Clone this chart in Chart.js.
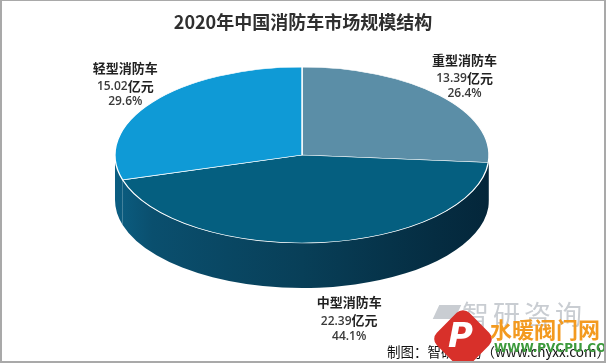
<!DOCTYPE html>
<html lang="zh">
<head>
<meta charset="utf-8">
<title>2020年中国消防车市场规模结构</title>
<script src="https://cdn.jsdelivr.net/npm/chart.js@4.4.1/dist/chart.umd.min.js"></script>
<style>
  html, body { margin: 0; padding: 0; background: #fff; }
  #wrap { position: relative; width: 606px; height: 363px; overflow: hidden; }
  #wrap canvas { position: absolute; left: 0; top: 0; }
  #frame { position: absolute; left: 0; top: 0; right: 0; bottom: 0; border: 2px solid #a9a9a9; border-top-width: 1px; pointer-events: none; }
  .wm { position: absolute; white-space: nowrap; }
  #caption { left: 387px; top: 341px; font: 13.5px "Noto Sans CJK SC", sans-serif; color: #111; }
  #zy { left: 462px; top: 294px; font: 27px "Noto Sans CJK SC", sans-serif; color: #c9cdd2; letter-spacing: 4px; }
  #zyIcon { left: 436px; top: 305px; width: 22px; height: 14px; background: #c9cdd2; transform: skewX(-25deg); }
  #logo { left: 440px; top: 316px; width: 46px; height: 46px; background: #d8302a; border-radius: 9px; transform: rotate(45deg); }
  #logoP { left: 448px; top: 315px; font: italic bold 34px "DejaVu Sans", sans-serif; color: #fff; }
  #swn { left: 490px; top: 312px; font: bold 22px "Noto Sans CJK SC", sans-serif; color: #f39a1f; }
  #pvc { left: 494px; top: 341px; font: bold 12px "DejaVu Sans", sans-serif; color: #3c9a3c; }
</style>
</head>
<body>
<div id="wrap">
  <canvas id="pieChart" width="606" height="363"></canvas>
  <div class="wm" id="caption">制图：智研咨询（www.chyxx.com）</div>
  <div class="wm" id="zyIcon"></div>
  <div class="wm" id="zy">智研咨询</div>
  <div class="wm" id="logo"></div>
  <div class="wm" id="logoP">P</div>
  <div class="wm" id="swn">水暖阀门网</div>
  <div class="wm" id="pvc">WWW.PVCPU.COM</div>
  <div id="frame"></div>
</div>
<script>
/* global Chart */
const categories = ["重型消防车", "中型消防车", "轻型消防车"];
const marketSize = [13.39, 22.39, 15.02]; // 亿元
const unit = "亿元";

const topColors = ["#5b8ea7", "#055f80", "#0f9ad6"];

// ellipse the flat pie is projected onto
const CX = 302, CY = 155, RX = 187, RY = 88, DEPTH = 45;
const labelNudge = [[0, -7], [25, 17], [0, -7]];

function sideFill(ctx) {
  const g = ctx.createLinearGradient(CX - RX, 0, CX + RX, 0);
  g.addColorStop(0, "#0b5e82");
  g.addColorStop(0.1, "#0a4f6e");
  g.addColorStop(0.5, "#083f58");
  g.addColorStop(0.85, "#052d42");
  g.addColorStop(1, "#04263a");
  return g;
}

const pie3d = {
  id: "pie3d",
  beforeDatasetsDraw(chart) {
    const ctx = chart.ctx;
    const meta = chart.getDatasetMeta(0);
    // side walls (front half only)
    meta.data.forEach((arc) => {
      const { startAngle, endAngle } = arc.getProps(["startAngle", "endAngle"], true);
      const s = Math.max(startAngle, 0);
      const e = Math.min(endAngle, Math.PI);
      if (e <= s) return;
      ctx.save();
      ctx.beginPath();
      ctx.ellipse(CX, CY, RX, RY, 0, s, e);
      ctx.ellipse(CX, CY + DEPTH, RX, RY, 0, e, s, true);
      ctx.closePath();
      ctx.fillStyle = sideFill(ctx);
      ctx.fill();
      ctx.restore();
    });
    // squash the flat pie onto the top face
    const { x, y, outerRadius } = meta.data[0].getProps(["x", "y", "outerRadius"], true);
    ctx.save();
    ctx.translate(CX, CY);
    ctx.scale(RX / outerRadius, RY / outerRadius);
    ctx.translate(-x, -y);
  },
  afterDatasetsDraw(chart) {
    chart.ctx.restore();
  },
  afterDraw(chart) {
    const ctx = chart.ctx;
    const meta = chart.getDatasetMeta(0);
    const total = marketSize.reduce((a, b) => a + b, 0);
    meta.data.forEach((arc, i) => {
      const { startAngle, endAngle } = arc.getProps(["startAngle", "endAngle"], true);
      const mid = (startAngle + endAngle) / 2;
      const x = CX + RX * Math.cos(mid) * 1.18 + labelNudge[i][0];
      const y = CY + RY * Math.sin(mid) * 1.18 + (Math.sin(mid) > 0 ? DEPTH : 0) + labelNudge[i][1];
      ctx.save();
      ctx.textBaseline = "middle";
      ctx.textAlign = "center";
      ctx.fillStyle = "#222";
      ctx.font = 'bold 13px "Noto Sans CJK SC", sans-serif';
      ctx.fillText(categories[i], x, y - 18);

      const num = marketSize[i].toFixed(2);
      ctx.textAlign = "left";
      ctx.font = '600 12px "Open Sans", sans-serif';
      const w1 = ctx.measureText(num).width;
      ctx.font = 'bold 13px "Noto Sans CJK SC", sans-serif';
      const w2 = ctx.measureText(unit).width;
      const x0 = x - (w1 + w2) / 2;
      ctx.font = '600 12px "Open Sans", sans-serif';
      ctx.fillStyle = "#3a3a3a";
      ctx.fillText(num, x0, y + 1);
      ctx.font = 'bold 13px "Noto Sans CJK SC", sans-serif';
      ctx.fillStyle = "#222";
      ctx.fillText(unit, x0 + w1, y);

      ctx.textAlign = "center";
      ctx.font = '600 12px "Open Sans", sans-serif';
      ctx.fillStyle = "#3a3a3a";
      ctx.fillText((marketSize[i] / total * 100).toFixed(1) + "%", x, y + 16);
      ctx.restore();
    });
  }
};

new Chart(document.getElementById("pieChart"), {
  type: "pie",
  data: {
    labels: categories,
    datasets: [{
      data: marketSize,
      backgroundColor: topColors,
      borderColor: "#ffffff",
      borderWidth: 1.2,
      clip: false
    }]
  },
  options: {
    responsive: false,
    animation: false,
    events: [],
    plugins: {
      legend: { display: false },
      tooltip: { enabled: false },
      title: {
        display: true,
        text: "2020年中国消防车市场规模结构",
        color: "#2f2f2f",
        font: { family: '"Noto Sans CJK SC", sans-serif', size: 18, weight: "bold" },
        padding: { top: 11, bottom: 8 }
      }
    }
  },
  plugins: [pie3d]
});
</script>
</body>
</html>
